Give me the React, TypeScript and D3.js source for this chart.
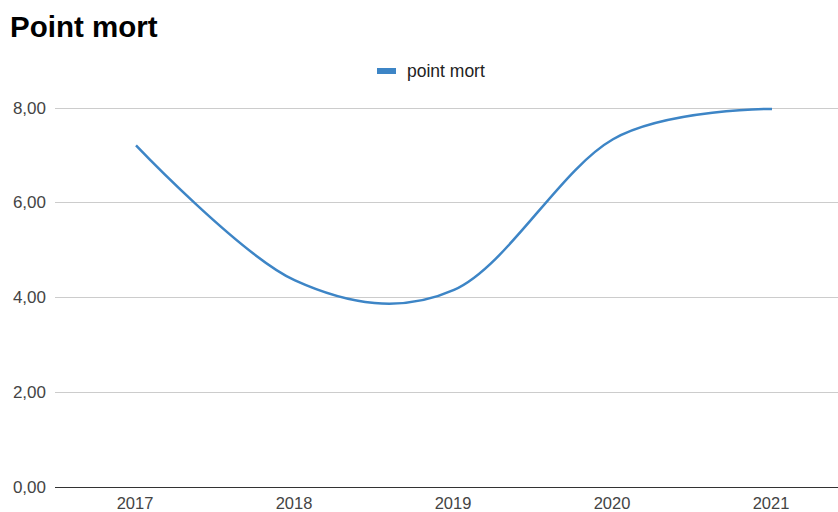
import React from "react";
import * as d3 from "d3";

const years = ["2017", "2018", "2019", "2020", "2021"];
const pointMort = [7.21, 4.36, 4.16, 7.34, 7.98];
const yTicks = [0, 2, 4, 6, 8];

const W = 838;
const H = 512;
const plotLeft = 55;
const plotRight = 838;
const plotTop = 108;
const plotBottom = 487;

export default function App() {
  const x = d3.scalePoint<string>().domain(years).range([136, 772]);
  const y = d3.scaleLinear().domain([0, 8]).range([plotBottom, plotTop]);
  const fmt = (v: number) => v.toFixed(2).replace(".", ",");

  const line = d3
    .line<number>()
    .x((_, i) => x(years[i]) as number)
    .y((d) => y(d))
    .curve(d3.curveCardinal.tension(0));

  return (
    <svg
      width={W}
      height={H}
      style={{ position: "absolute", left: 0, top: 0, background: "#fff" }}
      fontFamily="'Liberation Sans', Arial, sans-serif"
    >
      <text x={10} y={37} fontSize={29.5} fontWeight="bold" fill="#000">
        Point mort
      </text>

      <rect x={377} y={68} width={19} height={6} fill="#3d85c6" />
      <text x={407} y={77} fontSize={17.5} fill="#222">
        point mort
      </text>

      {yTicks.map((t) => (
        <g key={t}>
          <line
            x1={plotLeft}
            x2={plotRight}
            y1={y(t)}
            y2={y(t)}
            stroke={t === 0 ? "#333" : "#ccc"}
            strokeWidth={1}
            shapeRendering="crispEdges"
          />
          <text
            x={46}
            y={y(t) + 5.5}
            fontSize={17}
            textAnchor="end"
            fill="#444"
          >
            {fmt(t)}
          </text>
        </g>
      ))}

      {years.map((yr) => (
        <text
          key={yr}
          x={(x(yr) as number) - 1}
          y={508.5}
          fontSize={16.5}
          textAnchor="middle"
          fill="#444"
        >
          {yr}
        </text>
      ))}

      <path
        d={line(pointMort) || ""}
        fill="none"
        stroke="#3d85c6"
        strokeWidth={2.5}
      />
    </svg>
  );
}
